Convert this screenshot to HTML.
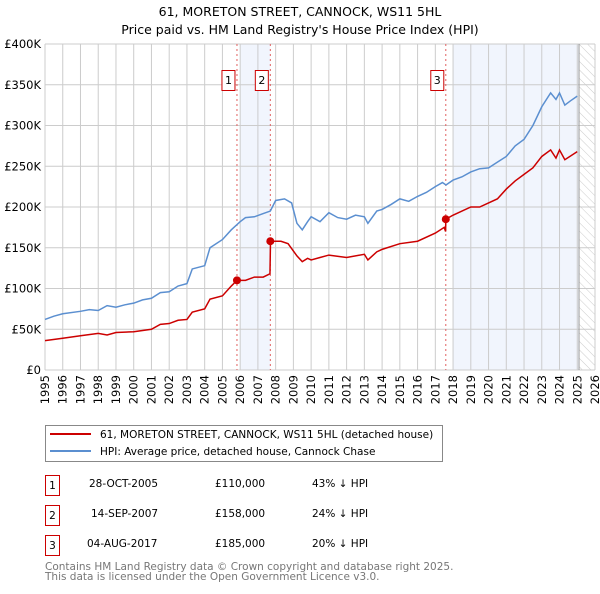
<!DOCTYPE html>
<html><head><meta charset="utf-8"><style>
body{margin:0;background:#fff;font-family:"DejaVu Sans","Liberation Sans",sans-serif;}
svg text{font-family:"DejaVu Sans","Liberation Sans",sans-serif;}
</style></head><body>
<svg id="chart" width="600" height="590" viewBox="0 0 600 590" xmlns="http://www.w3.org/2000/svg">
<defs><pattern id="hatch" width="6" height="6" patternUnits="userSpaceOnUse" patternTransform="rotate(-45)"><line x1="0" y1="0" x2="0" y2="6" stroke="#ccc" stroke-width="1"/></pattern></defs>
<text x="300" y="16" text-anchor="middle" font-size="12.5">61, MORETON STREET, CANNOCK, WS11 5HL</text>
<text x="300" y="34" text-anchor="middle" font-size="12.5">Price paid vs. HM Land Registry's House Price Index (HPI)</text>
<g id="plot"></g>
<g>
<rect x="45.5" y="425.5" width="397" height="36" fill="#fff" stroke="#888"/>
<line x1="50" y1="434" x2="91" y2="434" stroke="#cc0000" stroke-width="2"/>
<text x="100" y="438" font-size="10.5">61, MORETON STREET, CANNOCK, WS11 5HL (detached house)</text>
<line x1="50" y1="451" x2="91" y2="451" stroke="#5b8fd0" stroke-width="2"/>
<text x="100" y="455" font-size="10.5">HPI: Average price, detached house, Cannock Chase</text>
</g>
<g font-size="10.5">
<rect x="45.5" y="475.5" width="14" height="20" fill="none" stroke="#cc0000"/><text x="52.5" y="489" text-anchor="middle">1</text>
<text x="89" y="487">28-OCT-2005</text><text x="215" y="487">£110,000</text><text x="312" y="487">43% ↓ HPI</text>
<rect x="45.5" y="505.5" width="14" height="20" fill="none" stroke="#cc0000"/><text x="52.5" y="519" text-anchor="middle">2</text>
<text x="91" y="517">14-SEP-2007</text><text x="215" y="517">£158,000</text><text x="312" y="517">24% ↓ HPI</text>
<rect x="45.5" y="535.5" width="14" height="20" fill="none" stroke="#cc0000"/><text x="52.5" y="549" text-anchor="middle">3</text>
<text x="87" y="547">04-AUG-2017</text><text x="215" y="547">£185,000</text><text x="312" y="547">20% ↓ HPI</text>
</g>
<text x="45" y="570" font-size="10.5" fill="#777">Contains HM Land Registry data © Crown copyright and database right 2025.</text>
<text x="45" y="580" font-size="10.5" fill="#777">This data is licensed under the Open Government Licence v3.0.</text>
</svg>
<script>
const hpiYears=[1995,1995.5,1996,1997,1997.5,1998,1998.5,1999,1999.5,2000,2000.5,2001,2001.5,2002,2002.5,2003,2003.3,2004,2004.3,2005,2005.5,2006,2006.3,2006.8,2007.3,2007.7,2008,2008.5,2008.9,2009.2,2009.5,2009.8,2010,2010.5,2011,2011.5,2012,2012.5,2013,2013.2,2013.7,2014,2014.5,2015,2015.5,2016,2016.5,2017,2017.4,2017.6,2018,2018.5,2019,2019.5,2020,2020.5,2021,2021.5,2022,2022.5,2023,2023.5,2023.8,2024,2024.3,2024.6,2025];
const hpiValues=[62,66,69,72,74,73,79,77,80,82,86,88,95,96,103,106,124,128,150,160,172,182,187,188,192,195,208,210,205,180,172,182,188,182,193,187,185,190,188,180,195,197,203,210,207,213,218,225,230,227,233,237,243,247,248,255,262,275,283,300,323,340,332,340,325,330,336];
const priceYears=[1995,1996,1997,1998,1998.5,1999,2000,2001,2001.5,2002,2002.5,2003,2003.3,2004,2004.3,2005,2005.5,2005.82,2006.3,2006.8,2007.3,2007.68,2007.71,2008.3,2008.7,2009.2,2009.5,2009.8,2010,2010.5,2011,2012,2013,2013.2,2013.7,2014,2015,2016,2017,2017.5,2017.58,2017.59,2018,2019,2019.5,2020,2020.5,2021,2021.5,2022,2022.5,2023,2023.5,2023.8,2024,2024.3,2025];
const priceValues=[36,39,42,45,43,46,47,50,56,57,61,62,71,75,87,91,103,110,110,114,114,118,158,158,155,140,133,137,135,138,141,138,142,135,145,148,155,158,168,175,170,185,190,200,200,205,210,222,232,240,248,262,270,260,270,258,268];
const saleYears=[2005.82,2007.70,2017.59];
const saleValues=[110,158,185];
const saleLabels=["1","2","3"];
const yTicks=[0,50,100,150,200,250,300,350,400];
const yTickLabels=["£0","£50K","£100K","£150K","£200K","£250K","£300K","£350K","£400K"];
const xTicks=[1995,1996,1997,1998,1999,2000,2001,2002,2003,2004,2005,2006,2007,2008,2009,2010,2011,2012,2013,2014,2015,2016,2017,2018,2019,2020,2021,2022,2023,2024,2025,2026];

const X0=45,X1=595,Y0=370,Y1=44;
const x=y=>X0+(y-1995)/(2026-1995)*(X1-X0);
const yv=v=>Y0-v/400*(Y0-Y1);
const NS="http://www.w3.org/2000/svg";
const g=document.getElementById('plot');
function mk(t,a,p){const e=document.createElementNS(NS,t);for(const k in a)e.setAttribute(k,a[k]);(p||g).appendChild(e);return e;}

let s1=mk('rect',{x:x(2006),y:Y1,width:x(2007.7)-x(2006),height:Y0-Y1,fill:'#eef3fc',opacity:0.8});


let s2=mk('rect',{x:x(2018),y:Y1,width:x(2025.1)-x(2018),height:Y0-Y1,fill:'#eef3fc',opacity:0.8});


let hz=mk('rect',{x:x(2025.1),y:Y1,width:X1-x(2025.1),height:Y0-Y1,fill:'url(#hatch)'});



xTicks.forEach(t=>{
  const l=mk('line',{x1:x(t),x2:x(t),y1:Y1,y2:Y0,stroke:'#ccc','stroke-width':1});
  
  
  const tx=mk('text',{x:x(t)+4,y:Y0+5,'font-size':11.5,'text-anchor':'end',transform:`rotate(-90 ${x(t)+4} ${Y0+5})`});
  tx.textContent=t;
  
  
});
yTicks.forEach((t,i)=>{
  const l=mk('line',{x1:X0,x2:X1,y1:yv(t),y2:yv(t),stroke:'#ccc','stroke-width':1});
  
  
  const tx=mk('text',{x:X0-4,y:yv(t)+4,'font-size':11.5,'text-anchor':'end'});
  tx.textContent=yTickLabels[i];
  
  
});
let ev=mk('line',{x1:x(2025.1),x2:x(2025.1),y1:Y1,y2:Y0,stroke:'#999','stroke-width':1});



saleYears.forEach((s,i)=>{
  const l=mk('line',{x1:x(s),x2:x(s),y1:Y1,y2:Y0,stroke:'#e06060','stroke-width':1,'stroke-dasharray':'2,3'});
  
  
  const b=mk('rect',{x:x(s)-15,y:70.5,width:13,height:20,fill:'#fff',stroke:'#cc0000'});
  
  
  const t=mk('text',{x:x(s)-8.5,y:84,'font-size':11,'text-anchor':'middle'});
  t.textContent=saleLabels[i];
  
  
});

const hp=mk('polyline',{points:hpiYears.map((t,i)=>x(t)+','+yv(hpiValues[i])).join(' '),fill:'none',stroke:'#5b8fd0','stroke-width':1.5});


const pp=mk('polyline',{points:priceYears.map((t,i)=>x(t)+','+yv(priceValues[i])).join(' '),fill:'none',stroke:'#cc0000','stroke-width':1.5});


saleYears.forEach((s,i)=>{
  const c=mk('circle',{cx:x(s),cy:yv(saleValues[i]),r:4,fill:'#cc0000'});
  
  
});
</script>
</body></html>
